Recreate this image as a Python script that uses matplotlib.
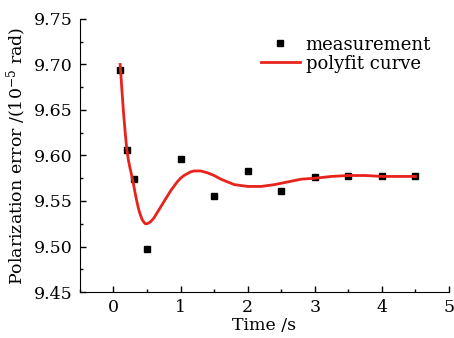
import numpy as np
import matplotlib
matplotlib.use('Agg')
import matplotlib.pyplot as plt
from matplotlib.ticker import MultipleLocator

plt.rcParams['font.family'] = 'DejaVu Serif'
plt.rcParams['mathtext.fontset'] = 'dejavuserif'

# measured points
t_meas = [0.1, 0.2, 0.3, 0.5, 1.0, 1.5, 2.0, 2.5, 3.0, 3.5, 4.0, 4.5]
err_meas = [9.694, 9.606, 9.574, 9.497, 9.596, 9.556, 9.583, 9.561, 9.576, 9.578, 9.577, 9.577]

# fitted curve
t_fit = [0.100, 0.125, 0.150, 0.175, 0.200, 0.225, 0.250, 0.275, 0.300, 0.325, 0.350,
         0.375, 0.400, 0.425, 0.450, 0.475, 0.500, 0.525, 0.550, 0.600, 0.650, 0.700,
         0.750, 0.800, 0.850, 0.900, 0.950, 1.000, 1.050, 1.100, 1.150, 1.200, 1.250,
         1.300, 1.350, 1.400, 1.500, 1.600, 1.700, 1.800, 1.900, 2.000, 2.100, 2.200,
         2.300, 2.400, 2.600, 2.800, 3.000, 3.250, 3.500, 3.750, 4.000, 4.250, 4.500]
err_fit = [9.700, 9.673, 9.647, 9.625, 9.606, 9.594, 9.585, 9.577, 9.568, 9.558, 9.549,
           9.541, 9.535, 9.530, 9.527, 9.525, 9.525, 9.526, 9.527, 9.531, 9.537, 9.543,
           9.549, 9.555, 9.561, 9.566, 9.571, 9.575, 9.578, 9.580, 9.582, 9.583, 9.583,
           9.583, 9.582, 9.581, 9.578, 9.574, 9.571, 9.568, 9.567, 9.566, 9.566, 9.566,
           9.567, 9.568, 9.571, 9.574, 9.575, 9.577, 9.578, 9.578, 9.577, 9.577, 9.577]

fig = plt.figure(figsize=(4.54, 3.38), dpi=100)
ax = fig.add_axes([0.176, 0.136, 0.813, 0.808])

ax.plot(t_meas, err_meas, 's', color='black', ms=5, linestyle='none', label='measurement')
ax.plot(t_fit, err_fit, '-', color='#e8231c', lw=2, solid_joinstyle='round',
        label='polyfit curve')

ax.set_xlim(-0.5, 5)
ax.set_ylim(9.45, 9.75)
ax.xaxis.set_major_locator(MultipleLocator(1))
ax.xaxis.set_minor_locator(MultipleLocator(0.5))
ax.yaxis.set_major_locator(MultipleLocator(0.05))
ax.yaxis.set_minor_locator(MultipleLocator(0.025))
ax.set_yticklabels(['%.2f' % v for v in ax.get_yticks()])

for s in ['top', 'right']:
    ax.spines[s].set_visible(False)
ax.tick_params(which='both', direction='in', labelsize=12.5, width=1)
ax.tick_params(which='major', length=4, pad=5)
ax.tick_params(which='minor', length=2)

ax.set_xlabel('Time /s', fontsize=12.5, labelpad=1)
ax.set_ylabel(r'Polarization error /(10$^{-5}$ rad)', fontsize=12.5, labelpad=4)

ax.legend(loc='upper right', bbox_to_anchor=(0.971, 0.965), frameon=False, fontsize=13,
          handlelength=2.2, handletextpad=0.3, labelspacing=0.05, borderaxespad=0)

fig.savefig('out.png', dpi=100)
